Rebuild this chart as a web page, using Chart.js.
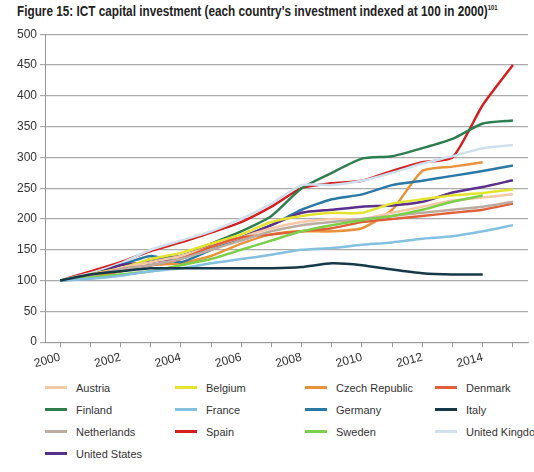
<!DOCTYPE html>
<html>
<head>
<meta charset="utf-8">
<script src="https://cdn.jsdelivr.net/npm/chart.js@4"></script>
<style>
  body { margin: 0; background: #fff; font-family: "Liberation Sans", Arial, sans-serif; }
  #title { position: absolute; left: 17px; top: 3px; font-size: 14px; font-weight: bold; color: #222; white-space: nowrap; transform: scaleX(0.84); transform-origin: left top; }
  #title sup { font-size: 7px; }
  #wrap { position: absolute; left: 0; top: 24px; width: 534px; height: 350px; }
  #legend { position: absolute; left: 45px; top: 379px; display: grid; grid-template-columns: 130px 130px 130px 130px; row-gap: 5px; font-size: 11px; color: #333; }
  .item { display: flex; align-items: center; height: 17px; white-space: nowrap; }
  .sw { width: 22px; height: 3px; margin-right: 9px; }
</style>
</head>
<body>
<div id="title">Figure 15: ICT capital investment (each country's investment indexed at 100 in 2000)<sup>101</sup></div>
<div id="wrap"><canvas id="chart"></canvas></div>
<div id="legend"></div>
<script>
const years = [2000,2001,2002,2003,2004,2005,2006,2007,2008,2009,2010,2011,2012,2013,2014,2015];
const countries = ['Austria','Belgium','Czech Republic','Denmark','Finland','France','Germany','Italy','Netherlands','Spain','Sweden','United Kingdom','United States'];
const colors = ['#f5c8a6','#e4e42c','#e8923a','#e0603a','#2e7d4f','#84c0df','#2a78a6','#163848','#bbaca2','#d42020','#7ccf4a','#cfe0ec','#5b2f8c'];

const austria = [100,108,120,130,140,155,170,185,195,200,200,210,220,230,235,240];
const belgium = [100,110,120,135,145,160,175,195,205,210,210,225,232,238,242,248];
const czech = [100,105,115,125,128,140,160,175,180,180,185,215,278,285,292];
const denmark = [100,108,118,125,135,155,170,175,180,185,195,200,205,210,215,225];
const finland = [100,108,115,135,140,160,180,205,250,275,298,302,315,330,355,360];
const france = [100,103,108,115,120,128,135,142,150,153,158,162,168,172,180,190];
const germany = [100,108,125,140,130,150,170,190,215,232,240,255,262,270,278,287];
const italy = [100,110,115,120,120,120,120,120,122,128,125,118,112,110,110];
const netherlands = [100,108,118,125,135,150,165,180,190,195,200,205,210,215,220,228];
const spain = [100,115,130,148,162,178,195,220,250,258,262,278,292,300,385,450];
const sweden = [100,105,110,115,125,135,150,165,180,190,198,205,215,228,238];
const uk = [100,112,128,150,165,180,200,225,255,255,262,275,290,302,315,320];
const us = [100,108,125,130,140,155,170,190,210,215,220,222,228,243,252,263];
const series = [austria,belgium,czech,denmark,finland,france,germany,italy,netherlands,spain,sweden,uk,us];

const datasets = countries.map((c, i) => ({
  label: c,
  data: series[i].map((v, j) => ({ x: years[j], y: v })),
  borderColor: colors[i],
  borderWidth: 2.5,
  pointRadius: 0,
  tension: 0.2,
  fill: false
}));
// draw in an order so the top lines stay on top
const order = [7,5,10,8,3,0,1,12,6,2,11,4,9];

new Chart(document.getElementById('chart'), {
  type: 'line',
  data: { datasets: order.map(i => datasets[i]) },
  options: {
    responsive: true,
    maintainAspectRatio: false,
    animation: false,
    layout: { padding: { left: 14, right: 6, top: 2 } },
    plugins: { legend: { display: false }, tooltip: { enabled: false } },
    scales: {
      x: {
        type: 'linear', min: 1999.5, max: 2015.5,
        grid: { drawOnChartArea: false, color: '#999', tickLength: 5 },
        border: { color: '#999' },
        ticks: {
          stepSize: 1, autoSkip: false, maxRotation: 15, minRotation: 15,
          color: '#333', font: { size: 12 },
          callback: (v) => (v % 2 === 0 && v <= 2014) ? String(v) : ''
        },
        afterBuildTicks: (a) => { a.ticks = []; for (let y = 2000; y <= 2015; y++) a.ticks.push({ value: y }); }
      },
      y: {
        min: 0, max: 500,
        grid: { color: '#aaa', lineWidth: 1.2, tickLength: 5 },
        border: { color: '#999' },
        ticks: { stepSize: 50, color: '#333', font: { size: 12 } }
      }
    }
  }
});

const legend = document.getElementById('legend');
countries.forEach((c, i) => {
  const d = document.createElement('div');
  d.className = 'item';
  d.innerHTML = `<span class="sw" style="background:${colors[i]}"></span>${c}`;
  legend.appendChild(d);
});
</script>
</body>
</html>
